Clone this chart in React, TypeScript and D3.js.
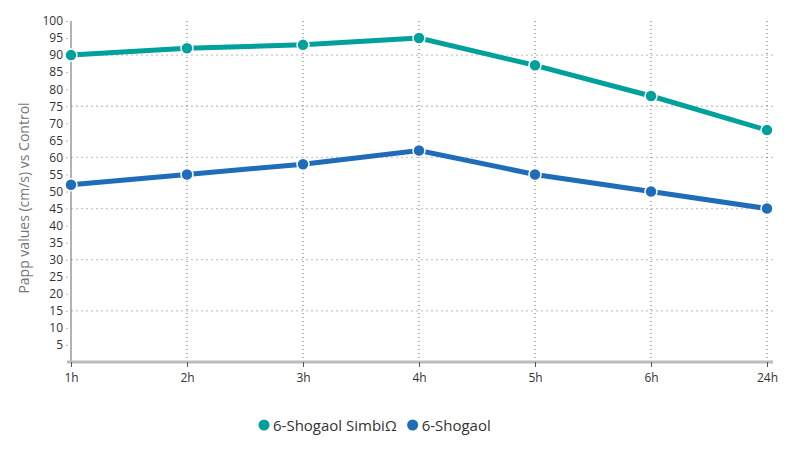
import { useRef, useEffect } from "react";
import * as d3 from "d3";

const categories = ["1h", "2h", "3h", "4h", "5h", "6h", "24h"];
const simbiValues = [90, 92, 93, 95, 87, 78, 68];
const shogaolValues = [52, 55, 58, 62, 55, 50, 45];
const yTicks = d3.range(5, 101, 5);
const gridValues = [15, 30, 45, 60, 75, 90];

const WIDTH = 800;
const HEIGHT = 450;
const FONT = "'Open Sans', 'Noto Sans', sans-serif";

const series = [
  { name: "6-Shogaol SimbiΩ", values: simbiValues, color: "#00a19a" },
  { name: "6-Shogaol", values: shogaolValues, color: "#1f6db8" },
];

export default function App() {
  const svgRef = useRef<SVGSVGElement>(null);

  useEffect(() => {
    if (!svgRef.current) return;
    const svg = d3.select(svgRef.current);
    svg.selectAll("*").remove();

    const x = d3.scalePoint<string>().domain(categories).range([71, 767]);
    const y = d3.scaleLinear().domain([0, 100]).range([362, 21]);

    // horizontal grid
    svg.append("g")
      .selectAll("line")
      .data(gridValues)
      .join("line")
      .attr("x1", 71)
      .attr("x2", 773)
      .attr("y1", (d) => y(d))
      .attr("y2", (d) => y(d))
      .attr("stroke", "#c8c8c8")
      .attr("stroke-width", 1.3)
      .attr("stroke-dasharray", "2,3");

    // vertical grid
    svg.append("g")
      .selectAll("line")
      .data(categories.slice(1))
      .join("line")
      .attr("x1", (d) => x(d)!)
      .attr("x2", (d) => x(d)!)
      .attr("y1", 21)
      .attr("y2", 362)
      .attr("stroke", "#666")
      .attr("stroke-width", 1)
      .attr("stroke-dasharray", "1,3");

    // y axis
    const yAxis = svg.append("g")
      .attr("transform", "translate(71,0)")
      .call(d3.axisLeft(y).tickValues(yTicks).tickSize(3).tickPadding(5));
    yAxis.select(".domain").attr("stroke", "#666").attr("d", `M0,${y(100)}V${y(0)}`);
    yAxis.selectAll(".tick line").attr("stroke", "#bbb").attr("x1", -5).attr("x2", -3);
    yAxis.selectAll("text")
      .attr("fill", "#333")
      .attr("font-size", "12px")
      .attr("font-family", FONT);

    // x axis
    const xAxis = svg.append("g")
      .attr("transform", "translate(0,362)")
      .call(d3.axisBottom(x).tickSize(5).tickPadding(6));
    xAxis.select(".domain").attr("stroke", "#bbb").attr("stroke-width", 3).attr("d", "M67,0H773");
    xAxis.selectAll(".tick line").attr("stroke", "#555");
    xAxis.selectAll("text")
      .attr("fill", "#333")
      .attr("font-size", "12px")
      .attr("font-family", FONT);

    // y axis label
    svg.append("text")
      .attr("transform", "rotate(-90)")
      .attr("x", -198)
      .attr("y", 29)
      .attr("text-anchor", "middle")
      .attr("fill", "#777")
      .attr("font-size", "14px")
      .attr("font-family", FONT)
      .text("Papp values (cm/s) vs Control");

    const line = d3.line<number>()
      .x((_, i) => x(categories[i])!)
      .y((d) => y(d));

    series.forEach((s) => {
      svg.append("path")
        .datum(s.values)
        .attr("d", line)
        .attr("fill", "none")
        .attr("stroke", s.color)
        .attr("stroke-width", 5);

      svg.append("g")
        .selectAll("circle")
        .data(s.values)
        .join("circle")
        .attr("cx", (_, i) => x(categories[i])!)
        .attr("cy", (d) => y(d))
        .attr("r", 6)
        .attr("fill", s.color)
        .attr("stroke", "#fff")
        .attr("stroke-width", 1.5);
    });

    // legend
    const legend = svg.append("g").attr("transform", "translate(264,425)");
    let offset = 0;
    series.forEach((s) => {
      const item = legend.append("g").attr("transform", `translate(${offset},0)`);
      item.append("circle").attr("r", 5.5).attr("fill", s.color);
      const t = item.append("text")
        .attr("x", 9)
        .attr("y", 5.5)
        .attr("fill", "#333")
        .attr("font-size", "15px")
        .attr("font-family", FONT)
        .text(s.name);
      const w = (t.node() as SVGTextElement).getComputedTextLength();
      offset += 9 + w + 16;
    });
  }, []);

  return (
    <svg
      ref={svgRef}
      width={WIDTH}
      height={HEIGHT}
      style={{ position: "absolute", left: 0, top: 0, background: "#fff" }}
    />
  );
}
